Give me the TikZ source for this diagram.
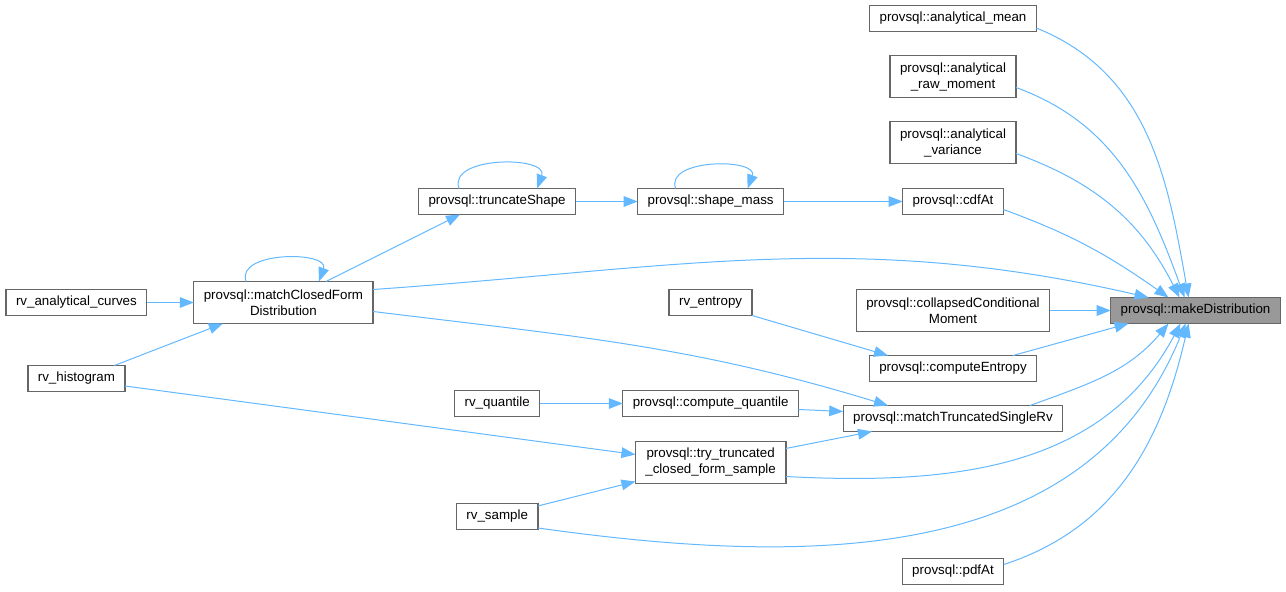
\documentclass[tikz,border=0pt]{standalone}
\usepackage{fontspec}
\setmainfont{Liberation Sans}
\usetikzlibrary{positioning, arrows.meta}
\definecolor{edgeblue}{HTML}{63B8FF}
\definecolor{boxgray}{HTML}{666666}
\definecolor{curfill}{HTML}{999999}
\tikzset{%
  eda/.style={-{Triangle[length=10.5pt,width=8pt]}, color=edgeblue, line width=0.75pt},
  fn/.style={draw=boxgray, line width=1pt, fill=white, minimum height=19.5pt,
    inner xsep=7.5pt, inner ysep=2pt, outer sep=0pt, font=\fontsize{10}{12}\selectfont},
  fn2/.style={fn, minimum height=31.5pt, align=center},
  cur/.style={fn, fill=curfill}
}

\begin{document}
\begin{tikzpicture}
        \useasboundingbox (0,0) rectangle (964.5pt,-444pt);
        \node[fn]  (amean)     at (714.75pt,-13.875pt)        {provsql::analytical\_mean};
        \node[fn2] (araw)      [below = 18pt of amean]        {provsql::analytical\\\_raw\_moment};
        \node[fn2] (avar)      [below = 18pt of araw]         {provsql::analytical\\\_variance};
        \node[fn]  (cdfat)     [below = 18.75pt of avar]      {provsql::cdfAt};
        \node[fn2] (collapsed) [below = 56.25pt of cdfat]     {provsql::collapsedConditional\\Moment};
        \node[fn]  (entropy)   [below = 18pt of collapsed]    {provsql::computeEntropy};
        \node[fn]  (mtrunc)    [below = 18pt of entropy]      {provsql::matchTruncatedSingleRv};
        \node[fn]  (pdfat)     [below = 95.25pt of mtrunc]    {provsql::pdfAt};
        \node[cur] (mkdist)    [right = 45.75pt of collapsed] {provsql::makeDistribution};
        \node[fn]  (shmass)    [left = 89.25pt of cdfat]      {provsql::shape\_mass};
        \node[fn]  (trshape)   [left = 46.5pt of shmass]      {provsql::truncateShape};
        \node[fn]  (rventropy) [below = 56.25pt of shmass]    {rv\_entropy};
        \node[fn]  (cquant)    [below = 56.25pt of rventropy] {provsql::compute\_quantile};
        \node[fn2] (trysample) [below = 18.75pt of cquant]    {provsql::try\_truncated\\\_closed\_form\_sample};
        \node[fn]  (rvquant)   [left = 62.25pt of cquant]     {rv\_quantile};
        \node[fn]  (rvsample)  [below = 65.25pt of rvquant]   {rv\_sample};
        \node[fn2] (mclosed)   [left = 222pt of rventropy]    {provsql::matchClosedForm\\Distribution};
        \node[fn]  (rvcurves)  [left = 35.25pt of mclosed]    {rv\_analytical\_curves};
        \node[fn]  (rvhist)    [below = 37.5pt of rvcurves]   {rv\_histogram};
        % callers of makeDistribution
        \path[eda]
        ([yshift=-7.125pt]amean.east) edge[out=-22, in=100] ([xshift=-5.25pt]mkdist.north)
        ([yshift=-8.25pt]araw.east) edge[out=-20, in=110] ([xshift=-8.25pt]mkdist.north)
        ([yshift=-8.25pt]avar.east) edge[out=-20, in=117] ([xshift=-12pt]mkdist.north)
        ([yshift=-6pt]cdfat.east) edge[out=-20, in=145] ([xshift=-20.25pt]mkdist.north)
        ([yshift=9.75pt]mclosed.east) edge[out=4, in=167] ([xshift=-35.25pt]mkdist.north)
        (collapsed) edge (mkdist)
        ([xshift=45pt]entropy.north) edge ([xshift=-50.25pt]mkdist.south)
        ([xshift=57.75pt]mtrunc.north) edge[out=20, in=-130] ([xshift=-20.25pt]mkdist.south)
        ([yshift=-10.5pt]trysample.east) edge[out=-3, in=-118] ([xshift=-11.25pt]mkdist.south)
        ([yshift=-8.6pt]rvsample.east) edge[out=-8, in=-112] ([xshift=-7.5pt]mkdist.south)
        ([yshift=5.25pt]pdfat.east) edge[out=18, in=-103] ([xshift=-5.25pt]mkdist.south);
        % the rest of the call chains
        \path[eda]
        ([xshift=-28.5pt]trshape.north) edge[out=110, in=70, looseness=1.15] ([xshift=30pt]trshape.north)
        ([xshift=-26.25pt]shmass.north) edge[out=110, in=70, looseness=1.15] ([xshift=27.75pt]shmass.north)
        ([xshift=-28pt]mclosed.north) edge[out=110, in=70, looseness=1.15] ([xshift=26.6pt]mclosed.north)
        (trshape) edge (shmass)
        (shmass) edge (cdfat)
        ([xshift=31.9pt]mclosed.north) edge ([xshift=-27.75pt]trshape.south)
        (rvcurves) edge (mclosed)
        ([xshift=28.5pt]rvhist.north) edge ([xshift=-45.4pt]mclosed.south)
        ([yshift=-5.6pt]rvhist.east) edge ([yshift=6pt]trysample.west)
        ([yshift=-6.75pt]mclosed.east) edge[out=-7, in=163] ([xshift=-48.75pt]mtrunc.north)
        (rventropy.south east) edge ([xshift=-48.75pt]entropy.north)
        (rvquant) edge (cquant)
        ([yshift=-4.5pt]cquant.east) edge ([yshift=5.25pt]mtrunc.west)
        ([yshift=10.5pt]trysample.east) edge ([xshift=-60.75pt]mtrunc.south)
        ([yshift=7.9pt]rvsample.east) edge ([yshift=-14.25pt]trysample.west);
\end{tikzpicture}
\end{document}
